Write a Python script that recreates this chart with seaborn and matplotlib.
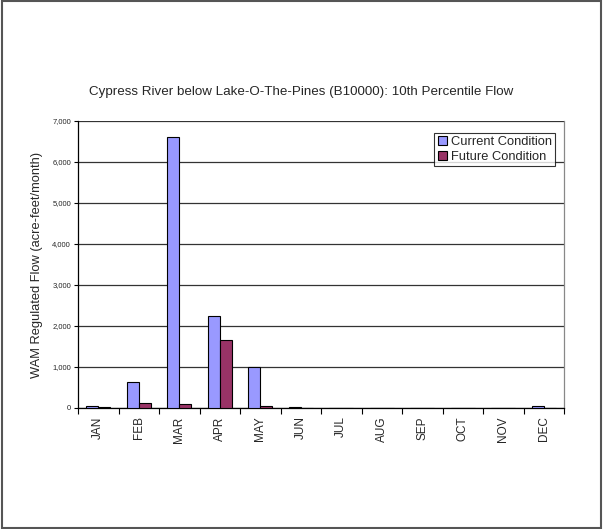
import numpy as np
import pandas as pd
import matplotlib
matplotlib.use('Agg')
import matplotlib.pyplot as plt
import seaborn as sns
from matplotlib.ticker import FuncFormatter, FixedLocator
from matplotlib.patches import Rectangle

months = ['JAN', 'FEB', 'MAR', 'APR', 'MAY', 'JUN', 'JUL', 'AUG', 'SEP', 'OCT', 'NOV', 'DEC']
current = [60, 640, 6600, 2240, 990, 30, 0, 10, 5, 0, 10, 40]
future = [20, 110, 90, 1650, 40, 10, 0, 10, 5, 0, 5, 10]
series_names = ['Current Condition', 'Future Condition']

df = pd.DataFrame({
    'Month': months * 2,
    'Flow': current + future,
    'Scenario': [series_names[0]] * len(months) + [series_names[1]] * len(months),
})

sns.set_style('white')
plt.rcParams['font.family'] = ['Liberation Sans', 'DejaVu Sans']

fig = plt.figure(figsize=(6.03, 5.29), dpi=100)
ax = fig.add_axes([78 / 603, 1 - 408 / 529, (564 - 78) / 603, (408 - 121) / 529])

palette = {'Current Condition': '#9999FF', 'Future Condition': '#993366'}
sns.barplot(data=df, x='Month', y='Flow', hue='Scenario', order=months,
            hue_order=series_names, palette=palette, width=0.6, gap=0,
            edgecolor='black', linewidth=0.8, saturation=1, ax=ax, zorder=3)

ax.set_xlim(-0.5, 11.5)
ax.set_ylim(0, 7000)
ax.set_yticks(np.arange(0, 7001, 1000))
ax.yaxis.set_major_formatter(FuncFormatter(lambda v, p: f'{int(v):,}'))
ax.grid(axis='y', color='#333333', linewidth=0.9, zorder=0)
ax.set_axisbelow(True)

ax.tick_params(axis='x', which='major', length=0, labelsize=8.5, labelrotation=90, pad=6)
ax.xaxis.set_minor_locator(FixedLocator(np.arange(-0.5, 12, 1)))
ax.tick_params(axis='x', which='minor', length=4, width=0.8, direction='out', color='black', bottom=True)
ax.tick_params(axis='y', length=3, width=0.8, direction='out', color='black', left=True, labelsize=5.5, pad=2)

ax.set_xlabel('')
ax.set_ylabel('WAM Regulated Flow (acre-feet/month)', fontsize=9.3, labelpad=7)

ax.spines['left'].set_color('black')
ax.spines['bottom'].set_color('black')
ax.spines['right'].set_color('#888888')
ax.spines['top'].set_visible(False)
for s in ax.spines.values():
    s.set_linewidth(0.9)

leg = ax.legend(title=None, fontsize=9.3, loc='upper right', bbox_to_anchor=(0.981, 0.958),
                frameon=True, fancybox=False, handlelength=0.7, handleheight=0.7,
                handletextpad=0.3, borderpad=0.25, labelspacing=0.2, borderaxespad=0)
leg.get_frame().set_edgecolor('black')
leg.get_frame().set_linewidth(0.8)
for h in leg.legend_handles:
    h.set_edgecolor('black')
    h.set_linewidth(0.8)

fig.text(0.5, 1 - 92 / 529, 'Cypress River below Lake-O-The-Pines (B10000): 10th Percentile Flow',
         ha='center', va='center', fontsize=9.6)

fig.patches.append(Rectangle((0.004, 0.001), 0.993, 0.997, transform=fig.transFigure,
                             fill=False, edgecolor='#555555', linewidth=1.5))

fig.savefig('out.png', dpi=100)
